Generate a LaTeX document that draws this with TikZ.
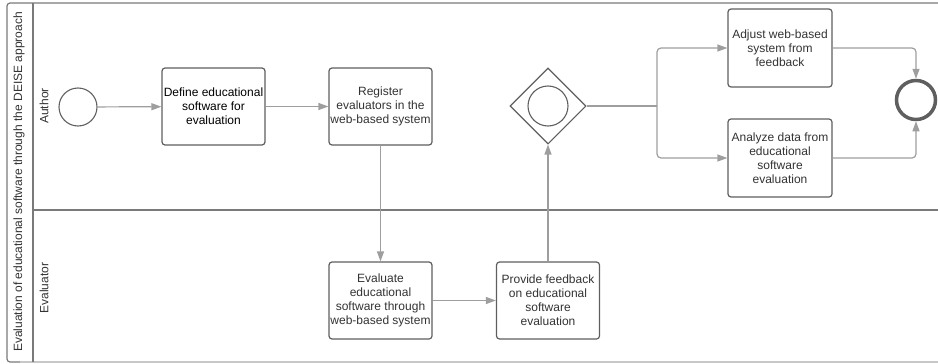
\documentclass[tikz,border=0pt]{standalone}
\usepackage{fontspec}
\setmainfont{Liberation Sans}
\usetikzlibrary{arrows.meta,shapes.geometric}
\definecolor{boxline}{HTML}{5F5F5F}
\definecolor{txt}{HTML}{333333}
\definecolor{conncol}{HTML}{9E9E9E}
\definecolor{poolcol}{HTML}{7A7A7A}
\definecolor{poolbot}{HTML}{C8C8C8}
\tikzset{
  task/.style={draw=boxline, line width=1.2pt, rounded corners=3pt, fill=white,
    minimum width=103pt, minimum height=77pt, align=center,
    inner sep=1pt, text=txt, font=\fontsize{12}{14}\selectfont},
  conn/.style={draw=conncol, line width=1.2pt, -{Triangle[length=10pt,width=7pt]}},
  plainconn/.style={draw=conncol, line width=1.2pt},
  poolline/.style={draw=poolcol, line width=1.2pt},
  lbl/.style={rotate=90, text=txt, font=\fontsize{12}{14}\selectfont, inner sep=0pt},
}
\begin{document}
\begin{tikzpicture}[x=1pt,y=-1pt]
\useasboundingbox (0,0) rectangle (938,364);
% pool frame
\draw[poolline, rounded corners=3pt] (938,3) -- (7,3) -- (7,362) -- (20,362);
\draw[draw=poolbot, line width=1.2pt] (20,362) -- (938,362);
\draw[poolline] (33,3) -- (33,362);
\draw[poolline] (33,210) -- (938,210);
% labels
\node[lbl] (title) at (19,182) {Evaluation of educational software through the DEISE approach};
\node[lbl] (lauthor) at (44,106) {Author};
\node[lbl] (leval) at (44,288) {Evaluator};
% events
\node[circle, draw=boxline, line width=1.1pt, minimum size=38pt, inner sep=0pt] (start) at (78,107) {};
\node[circle, draw=boxline, line width=3.5pt, minimum size=39pt, inner sep=0pt] (end) at (916,100) {};
% tasks
\node[task, text=black] (t1) at (213.5,106.5) {Define educational\\software for\\evaluation};
\node[task] (t2) at (380.5,106.5) {Register\\evaluators in the\\web-based system};
\node[task] (t3) at (380.5,300.5) {Evaluate\\educational\\software through\\web-based system};
\node[task] (t4) at (548,300.5) {Provide feedback\\on educational\\software\\evaluation};
\node[task, minimum width=104pt, minimum height=78pt] (t5) at (780,48) {Adjust web-based\\system from\\feedback};
\node[task, minimum width=104pt, minimum height=78pt] (t6) at (780,158) {Analyze data from\\educational\\software\\evaluation};
% gateway
\node[diamond, draw=boxline, line width=1.1pt, minimum size=76pt, inner sep=0pt, aspect=1] (gw) at (548,106) {};
\node[circle, draw=boxline, line width=1.1pt, minimum size=40pt, inner sep=0pt] (gwc) at (548,106) {};
% connectors
\coordinate (fork) at (657,106);
\draw[conn] (start) -- (t1);
\draw[conn] (t1) -- (t2);
\draw[conn] (t2) -- (t3);
\draw[conn] (t3) -- (t4);
\draw[conn] (t4) -- (gw);
\draw[plainconn] (gw.east) -- (fork);
\draw[conn, rounded corners=4pt] (fork) |- (t5.west);
\draw[conn, rounded corners=4pt] (fork) |- (t6.west);
\draw[conn, rounded corners=4pt] (t5.east) -| (end.north);
\draw[conn, rounded corners=4pt] (t6.east) -| (end.south);
\end{tikzpicture}
\end{document}
